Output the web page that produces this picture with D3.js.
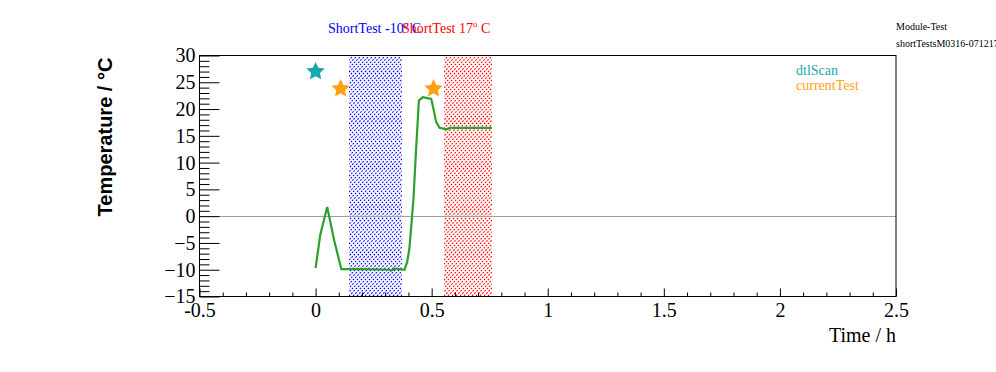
<!DOCTYPE html>
<html><head><meta charset="utf-8">
<script src="https://cdn.jsdelivr.net/npm/d3@7"></script>
<style>body{margin:0;background:#fff}svg{display:block}</style>
</head><body>
<svg id="c" width="996" height="372"></svg>
<script>
// ---- data ----
const timeH = [0, 0.02, 0.05, 0.08, 0.111, 0.2, 0.318, 0.325, 0.34, 0.383, 0.395, 0.404, 0.413, 0.422, 0.433, 0.445, 0.462, 0.498, 0.509, 0.519, 0.534, 0.562, 0.584, 0.76];
const tempC = [-9.7, -3.5, 1.7, -4.5, -9.9, -9.9, -10.0, -10.2, -9.8, -10.0, -8.5, -6.0, -1.5, 3.5, 12.6, 21.6, 22.2, 21.9, 19.8, 17.6, 16.5, 16.2, 16.5, 16.5];
const dtlScanT = [0];
const dtlScanY = [27];
const currentTestT = [0.108, 0.508];
const currentTestY = [23.8, 23.8];
const bandNames = ["ShortTest -10", "ShortTest 17"];
const bandStart = [0.146, 0.551];
const bandEnd = [0.373, 0.760];
const xMajor = [-0.5, 0, 0.5, 1, 1.5, 2, 2.5];
const yMajor = [-15, -10, -5, 0, 5, 10, 15, 20, 25, 30];

// ---- layout ----
const L = 199.5, R = 896, T = 55.5, B = 296.5;
const svg = d3.select("#c");
const x = d3.scaleLinear().domain([-0.5, 2.5]).range([L, R]);
const y = d3.scaleLinear().domain([-15, 30]).range([B, T]);
const serif = "'Liberation Serif','Times New Roman',serif";
const sans = "'Liberation Sans',Arial,sans-serif";
const bandColors = ["#0000ff", "#ff0000"];

// bands drawn as clipped diagonal dotted hatch lines
bandStart.forEach((s, i) => {
  const x0 = Math.round(x(s)), x1 = Math.round(x(bandEnd[i]));
  const y0 = Math.ceil(T), y1 = Math.floor(B);
  const cid = "clipBand" + i;
  svg.append("clipPath").attr("id", cid).append("rect")
    .attr("x", x0).attr("y", y0).attr("width", x1 - x0).attr("height", y1 - y0);
  const g = svg.append("g").attr("clip-path", `url(#${cid})`);
  const h = y1 - y0;
  const starts = d3.range(x0 - h - 4, x1 + 4, 4);
  g.selectAll("line").data(starts).join("line")
    .attr("x1", d => d).attr("y1", y1).attr("x2", d => d + h).attr("y2", y0)
    .style("stroke", bandColors[i]).style("stroke-width", 1.1)
    .style("stroke-dasharray", "1.8,1.4");
});

// zero line
svg.append("line").attr("x1", L).attr("x2", R).attr("y1", Math.round(y(0)) + 0.5).attr("y2", Math.round(y(0)) + 0.5)
  .attr("stroke", "#a0a0a0").attr("stroke-width", 1);

// axes
const yMinor = d3.range(-15, 31, 1).filter(v => v % 5 !== 0);
const xMinor = d3.range(-5, 26, 1).map(v => v / 10).filter(v => Math.abs(v * 2 - Math.round(v * 2)) > 1e-6);
svg.append("g").attr("transform", `translate(${L},0)`)
  .call(d3.axisLeft(y).tickValues(yMajor).tickSizeInner(-20).tickSizeOuter(0).tickPadding(4).tickFormat(d3.format("d")));
svg.append("g").attr("transform", `translate(${L},0)`)
  .call(d3.axisLeft(y).tickValues(yMinor).tickSizeInner(-10).tickSizeOuter(0).tickFormat(""));
svg.append("g").attr("transform", `translate(0,${B})`)
  .call(d3.axisBottom(x).tickValues(xMajor).tickSizeInner(-8).tickSizeOuter(0).tickPadding(6).tickFormat(d => d === 0 ? "0" : String(d)));
svg.append("g").attr("transform", `translate(0,${B})`)
  .call(d3.axisBottom(x).tickValues(xMinor).tickSizeInner(-4).tickSizeOuter(0).tickFormat(""));
svg.selectAll(".domain").remove();
svg.selectAll(".tick line").attr("stroke", "#000");
svg.selectAll(".tick text").attr("font-family", serif).attr("font-size", 20).attr("fill", "#000");

// frame
svg.append("rect").attr("x", L).attr("y", T).attr("width", R - L).attr("height", B - T)
  .attr("fill", "none").attr("stroke", "#000").attr("stroke-width", 1);

// line
const pts = timeH.map((t, i) => [t, tempC[i]]);
svg.append("path").datum(pts)
  .attr("d", d3.line().x(d => x(d[0])).y(d => y(d[1])))
  .attr("fill", "none").attr("stroke", "#2ca02c").attr("stroke-width", 2.2);

// markers: fat five-pointed star (ROOT style)
const fatStar = {
  draw(ctx, size) {
    const r = Math.sqrt(size / 1.3), ri = r * 0.48;
    for (let k = 0; k < 10; k++) {
      const a = -Math.PI / 2 + k * Math.PI / 5, rr = k % 2 ? ri : r;
      const px = rr * Math.cos(a), py = rr * Math.sin(a);
      k ? ctx.lineTo(px, py) : ctx.moveTo(px, py);
    }
    ctx.closePath();
  }
};
const star = d3.symbol().type(fatStar).size(120);
svg.selectAll("path.dtl").data(dtlScanT).join("path").attr("class", "dtl")
  .attr("d", star).attr("transform", (d, i) => `translate(${x(d)},${y(dtlScanY[i])})`).style("fill", "#17a9a9");
svg.selectAll("path.cur").data(currentTestT).join("path").attr("class", "cur")
  .attr("d", star).attr("transform", (d, i) => `translate(${x(d)},${y(currentTestY[i])})`).style("fill", "#ffa010");

// axis titles
svg.append("text").attr("transform", "translate(112,137) rotate(-90)").attr("text-anchor", "middle")
  .attr("font-family", sans).attr("font-weight", "bold").attr("font-size", 20).text("Temperature / °C");
svg.append("text").attr("x", R).attr("y", 342).attr("text-anchor", "end")
  .attr("font-family", serif).attr("font-size", 20).text("Time / h");

// band titles
const titleX = [328, 402];
bandNames.forEach((n, i) => {
  const t = svg.append("text").attr("x", titleX[i]).attr("y", 33).attr("font-family", serif)
    .attr("font-size", 14).style("fill", bandColors[i]);
  t.append("tspan").text(n);
  t.append("tspan").attr("font-size", 9).attr("dy", -6).text("o");
  t.append("tspan").attr("dy", 6).text(" C");
});

// header
svg.append("text").attr("x", 896).attr("y", 30).attr("font-family", serif).attr("font-size", 10).text("Module-Test");
svg.append("text").attr("x", 896).attr("y", 47).attr("font-family", serif).attr("font-size", 10).text("shortTestsM0316-071217");

// legend
const legNames = ["dtlScan", "currentTest"];
const legColors = ["#17a9a9", "#ffa010"];
svg.selectAll("text.leg").data(legNames).join("text").attr("class", "leg")
  .attr("x", 796).attr("y", (d, i) => 75 + i * 15).attr("font-family", serif).attr("font-size", 14)
  .style("fill", (d, i) => legColors[i]).text(d => d);
</script>
</body></html>
